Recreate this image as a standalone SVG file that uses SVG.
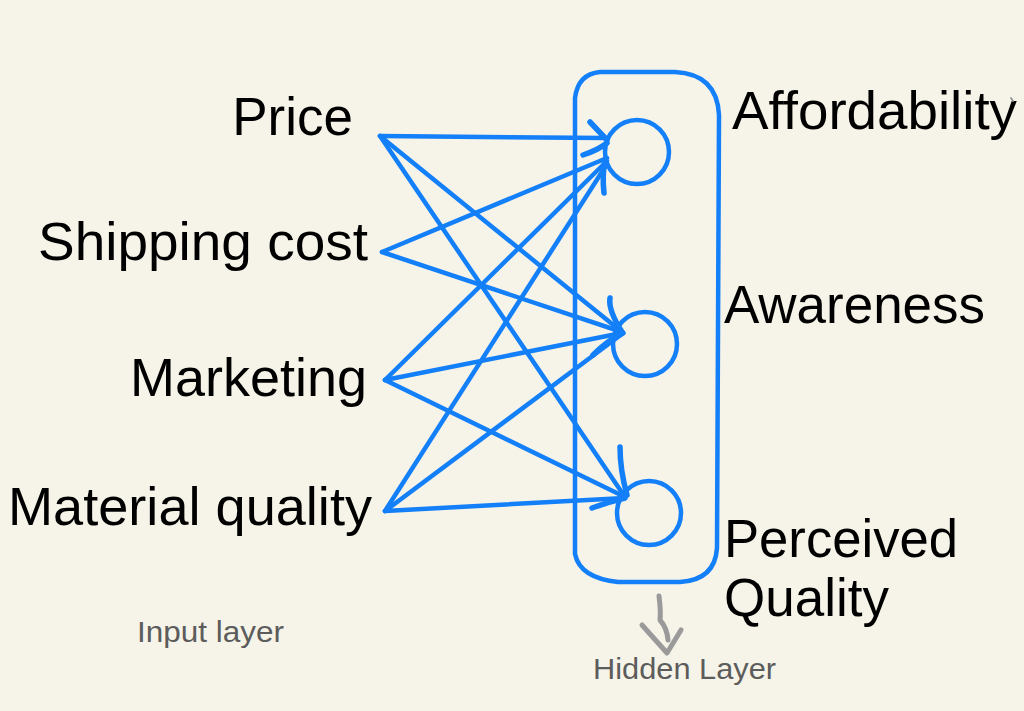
<svg xmlns="http://www.w3.org/2000/svg" width="1024" height="711" viewBox="0 0 1024 711">
<style>
.bg{fill:#f6f4e8}
.lbl{font-family:"Liberation Sans",Arial,sans-serif;fill:#000;font-size:53px}
.cap{font-family:"Liberation Sans",Arial,sans-serif;fill:#5c5c5c;font-size:29px}
.blue{fill:none;stroke:#137ff8;stroke-width:4.5;stroke-linecap:round;stroke-linejoin:round}
.head{fill:none;stroke:#137ff8;stroke-width:5.5;stroke-linecap:round;stroke-linejoin:round}
.grey{fill:none;stroke:#9a9a9a;stroke-width:5;stroke-linecap:round;stroke-linejoin:round}
</style>
<rect class="bg" x="0" y="0" width="1024" height="711"/>
<g id="inputs">
<g id="in-price"><text class="lbl" x="353" y="135" text-anchor="end">Price</text></g>
<g id="in-shipping"><text class="lbl" x="368" y="260" text-anchor="end" textLength="330" lengthAdjust="spacingAndGlyphs">Shipping cost</text></g>
<g id="in-marketing"><text class="lbl" x="367" y="396" text-anchor="end" textLength="237" lengthAdjust="spacingAndGlyphs">Marketing</text></g>
<g id="in-material"><text class="lbl" x="372" y="525" text-anchor="end" textLength="364" lengthAdjust="spacingAndGlyphs">Material quality</text></g>
</g>
<g id="hidden-layer">
<path class="blue" d="M575,98 Q578,74 600,72 L675,72 Q717,74 719,115 L717,548 Q715,580 680,582 L618,582 Q580,578 575,554 Z"/>
</g>
<g id="node-affordability"><circle class="blue" cx="637" cy="152" r="32"/></g>
<g id="node-awareness"><circle class="blue" cx="645" cy="344" r="32"/></g>
<g id="node-quality"><circle class="blue" cx="649" cy="513" r="32"/></g>
<g id="connectors">
<line class="blue" x1="380" y1="136" x2="606" y2="138"/>
<line class="blue" x1="380" y1="136" x2="622" y2="332"/>
<line class="blue" x1="380" y1="136" x2="625" y2="497"/>
<line class="blue" x1="382" y1="252" x2="607" y2="158"/>
<line class="blue" x1="382" y1="252" x2="622" y2="332"/>
<line class="blue" x1="385" y1="380" x2="607" y2="161"/>
<line class="blue" x1="385" y1="380" x2="622" y2="333"/>
<line class="blue" x1="385" y1="380" x2="625" y2="497"/>
<line class="blue" x1="385" y1="511" x2="607" y2="164"/>
<line class="blue" x1="385" y1="511" x2="622" y2="334"/>
<line class="blue" x1="385" y1="511" x2="625" y2="498"/>
<path class="head" d="M590,122 L607,140"/>
<path class="head" d="M583,155 Q598,150 607,143"/>
<path class="head" d="M605,160 Q602,176 604,193"/>
<path class="head" d="M610,298 Q608,310 622,332"/>
<path class="head" d="M593,355 Q608,340 623,333"/>
<path class="head" d="M620,447 Q620,470 627,495"/>
<path class="head" d="M592,508 Q608,502 625,498"/>
</g>
<g id="hidden-labels">
<text class="lbl" x="732" y="129" textLength="285" lengthAdjust="spacingAndGlyphs">Affordability</text>
<text class="lbl" x="724" y="323" textLength="261" lengthAdjust="spacingAndGlyphs">Awareness</text>
<text class="lbl" x="724" y="557" textLength="234" lengthAdjust="spacingAndGlyphs">Perceived</text>
<text class="lbl" x="724" y="616">Quality</text>
</g>
<g id="captions">
<text class="cap" x="137" y="642" textLength="147" lengthAdjust="spacingAndGlyphs">Input layer</text>
<text class="cap" x="593" y="679" textLength="183" lengthAdjust="spacingAndGlyphs">Hidden Layer</text>
<path class="grey" d="M659,596 Q661,612 660,620 Q667,628 668,640"/>
<path class="grey" d="M642,625 L667,653 L681,630"/>
<path d="M1011,98 L1013,101" fill="none" stroke="#9a9a9a" stroke-width="2" stroke-linecap="round"/>
</g>
</svg>
